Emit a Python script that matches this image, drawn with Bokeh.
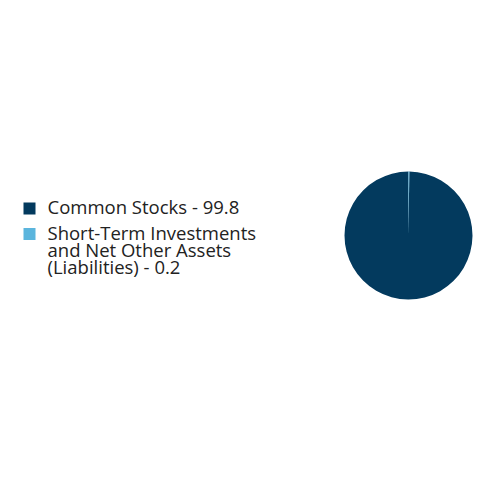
import math
from bokeh.plotting import figure
from bokeh.models import Range1d, ColumnDataSource
from bokeh.core.properties import value
from bokeh.embed import file_html
from bokeh.resources import INLINE

# data
labels = ["Common Stocks - 99.8",
          "Short-Term Investments\nand Net Other Assets\n(Liabilities) - 0.2"]
values = [99.8, 0.2]
colors = ["#033A5E", "#5BB5DD"]

W, H = 476, 464
p = figure(width=W, height=H, output_backend="svg", toolbar_location=None,
           x_range=Range1d(0, W), y_range=Range1d(H, 0), min_border=0)
p.axis.visible = False
p.grid.visible = False
p.outline_line_color = None
p.background_fill_color = "white"

# pie (clockwise from 12 o'clock)
cx, cy, r = 408, 235, 64
total = sum(values)
starts, ends = [], []
a = 0.0
for v in values:
    frac = v / total
    s = math.pi / 2 + a * 2 * math.pi
    e = math.pi / 2 + (a + frac) * 2 * math.pi
    starts.append(s)
    ends.append(e)
    a += frac
src = ColumnDataSource(dict(x=[cx] * len(values), y=[cy] * len(values),
                            start=starts, end=ends, color=colors))
p.wedge(x="x", y="y", radius=r, radius_units="screen", start_angle="start",
        end_angle="end", direction="anticlock", fill_color="color",
        line_color=None, source=src)

# legend
sq_cx, txt_x = 29, 47
base0, line_h, item_gap = 213.3, 17.3, 8.1
sq_x, sq_y, sq_c = [], [], []
tx, ty, tt = [], [], []
y = base0
for lab, col in zip(labels, colors):
    lines = lab.split("\n")
    sq_x.append(sq_cx)
    sq_y.append(y - 5.2)
    sq_c.append(col)
    for ln in lines:
        tx.append(txt_x)
        ty.append(y)
        tt.append(ln)
        y += line_h
    y += item_gap
p.scatter(x=sq_x, y=sq_y, marker="square", size=12, fill_color=sq_c,
          line_color=None)
p.text(x=tx, y=ty, text=tt, text_font=value("Open Sans"),
       text_font_size="18.5px", text_baseline="alphabetic", text_align="left",
       y_offset=-7, text_color="#222222")

open("out.html", "w").write(file_html(p, INLINE))
